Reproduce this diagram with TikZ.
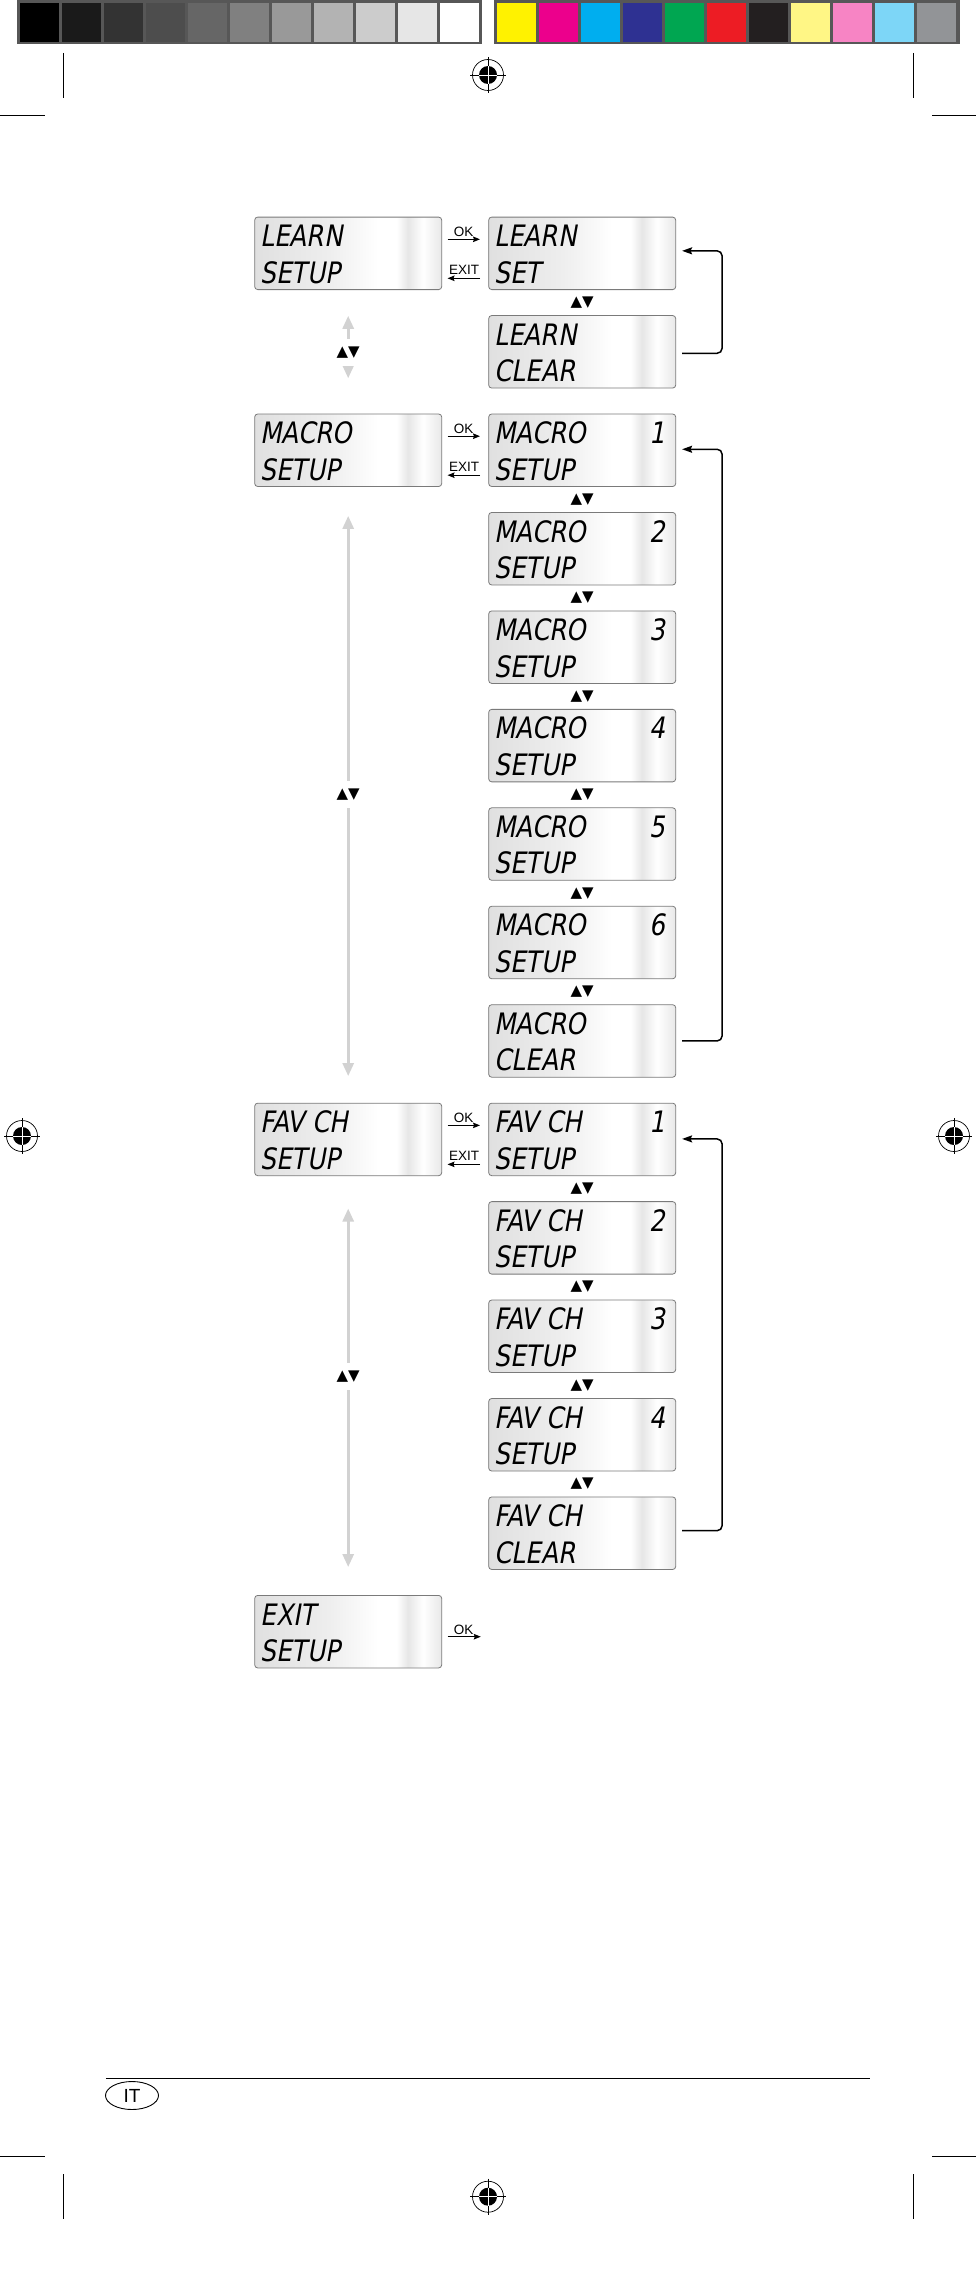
\documentclass[tikz,border=0pt]{standalone}
\usepackage{fontspec}
\setmainfont{Liberation Sans}
\newfontfamily\lcdfont{DejaVu Sans}[FakeSlant=0.18,FakeStretch=0.84]
\newfontfamily\symfont{DejaVu Sans}
\usetikzlibrary{arrows.meta,calc}
\definecolor{lcdA}{HTML}{E0E0E0}
\definecolor{lcdB}{HTML}{EEEEEE}
\definecolor{lcdC}{HTML}{E6E6E6}
\definecolor{lcdD}{HTML}{E8E8E8}
\definecolor{arrowgray}{HTML}{D2D2D2}
\definecolor{boxline}{HTML}{7A7A7A}
\definecolor{framegray}{HTML}{575757}
\pgfdeclarehorizontalshading{lcdshade}{100bp}{color(0bp)=(lcdA); color(25bp)=(lcdA); color(45bp)=(lcdB); color(58bp)=(white); color(63bp)=(white); color(66bp)=(lcdC); color(70bp)=(white); color(75bp)=(lcdD); color(100bp)=(lcdD)}
\newcommand\lcdbox[5]{%
  \node[lcd] (#1) at (#2,#3) {};
  \node[lcdtxt] (#1-a) at ($(#1.north west)+(6,30)$) {#4};
  \node[lcdtxt] (#1-b) at ($(#1.north west)+(6,66.5)$) {#5};
}
\newcommand\lcdnum[2]{%
  \node[lcdtxt,anchor=base east] (#1-n) at ($(#1.north east)+(-11,30)$) {#2};
}
\newcommand\myregmark[3]{%
  \begin{scope}[shift={(#2,#3)}]
    \draw[regline] (0,0) circle[radius=15.5];
    \fill (0,0) circle[radius=9];
    \draw[regline] (-18,0) -- (18,0) (0,-18) -- (0,18);
    \draw[white,line width=0.8pt] (-9,0) -- (9,0) (0,-9) -- (0,9);
    \coordinate (#1) at (0,0);
  \end{scope}
}
\begin{document}
\begin{tikzpicture}[x=1pt,y=-1pt,
  lcd/.style={draw=boxline, line width=0.8pt, rounded corners=3pt, shading=lcdshade,
    minimum width=187pt, minimum height=72.5pt, inner sep=0pt, anchor=north west},
  lcdtxt/.style={anchor=base west, inner sep=0pt, font=\lcdfont\fontsize{29.5}{29.5}\selectfont},
  updown/.style={font=\symfont\fontsize{15}{15}\selectfont, inner sep=0pt},
  updownw/.style={updown, fill=white, inner xsep=2pt, inner ysep=8pt},
  okarrow/.style={line width=1.1pt, -{Stealth[length=7pt,width=5.5pt,inset=1pt]}},
  oklbl/.style={font=\fontsize{13.5}{13.5}\selectfont, inner sep=0pt, anchor=base},
  looparrow/.style={line width=1.5pt, rounded corners=5pt, -{Stealth[length=10pt,width=7pt,inset=1.5pt]}},
  grayarrow/.style={draw=arrowgray, line width=2.8pt, {Triangle[length=13pt,width=11pt]}-{Triangle[length=13pt,width=11pt]}},
  regline/.style={line width=0.7pt},
]
\useasboundingbox (0,0) rectangle (976,2272);
\fill[white] (0,0) rectangle (976,2272);

% colour bars
\fill[framegray] (16.7,0) rectangle (482.3,44.3);
\foreach \c [count=\i from 0] in {000000,1A1A1A,333333,4D4D4D,666666,808080,999999,B3B3B3,CCCCCC,E6E6E6,FFFFFF} {
  \definecolor{sw}{HTML}{\c}\fill[sw] ({20+42*\i},3.3) rectangle ++(39,38.4);
}
\fill[framegray] (494,0) rectangle (959.5,44.3);
\foreach \c [count=\i from 0] in {FFF200,EC008C,00AEEF,2E3192,00A651,ED1C24,231F20,FFF685,F784C4,7DD6F7,929497} {
  \definecolor{sw}{HTML}{\c}\fill[sw] ({497.3+42*\i},3.3) rectangle ++(39,38.4);
}

% crop marks
\draw[regline] (63.5,53) -- (63.5,97.7) (913,53) -- (913,97.7);
\draw[regline] (0,115) -- (45,115) (932,115) -- (976,115);
\draw[regline] (0,2156) -- (45,2156) (932,2156) -- (976,2156);
\draw[regline] (63.5,2174) -- (63.5,2219) (913,2174) -- (913,2219);
\myregmark{regT}{488}{75}
\myregmark{regB}{488}{2196.7}
\myregmark{regL}{22}{1136}
\myregmark{regR}{954}{1136}

% footer
\draw[line width=1pt] (105.8,2078.3) -- (870,2078.3);
\draw[line width=0.9pt] (132,2095.5) ellipse[x radius=26.5, y radius=14];
\node[font=\fontsize{19}{19}\selectfont, inner sep=0pt] (lang) at (132,2095.5) {IT};

% LCD boxes, left column
\lcdbox{L0}{254.3}{216.7}{LEARN}{SETUP}
\lcdbox{L2}{254.3}{413.6}{MACRO}{SETUP}
\lcdbox{L9}{254.3}{1102.75}{FAV CH}{SETUP}
\lcdbox{L14}{254.3}{1595}{EXIT}{SETUP}

% right column
\lcdbox{R0}{488.3}{216.7}{LEARN}{SET}
\lcdbox{R1}{488.3}{315.15}{LEARN}{CLEAR}
\lcdbox{R2}{488.3}{413.6}{MACRO}{SETUP}\lcdnum{R2}{1}
\lcdbox{R3}{488.3}{512.05}{MACRO}{SETUP}\lcdnum{R3}{2}
\lcdbox{R4}{488.3}{610.5}{MACRO}{SETUP}\lcdnum{R4}{3}
\lcdbox{R5}{488.3}{708.95}{MACRO}{SETUP}\lcdnum{R5}{4}
\lcdbox{R6}{488.3}{807.4}{MACRO}{SETUP}\lcdnum{R6}{5}
\lcdbox{R7}{488.3}{905.85}{MACRO}{SETUP}\lcdnum{R7}{6}
\lcdbox{R8}{488.3}{1004.3}{MACRO}{CLEAR}
\lcdbox{R9}{488.3}{1102.75}{FAV CH}{SETUP}\lcdnum{R9}{1}
\lcdbox{R10}{488.3}{1201.2}{FAV CH}{SETUP}\lcdnum{R10}{2}
\lcdbox{R11}{488.3}{1299.65}{FAV CH}{SETUP}\lcdnum{R11}{3}
\lcdbox{R12}{488.3}{1398.1}{FAV CH}{SETUP}\lcdnum{R12}{4}
\lcdbox{R13}{488.3}{1496.55}{FAV CH}{CLEAR}

% up/down symbols between right boxes
\foreach \a/\b in {R0/R1,R2/R3,R3/R4,R4/R5,R5/R6,R6/R7,R7/R8,R9/R10,R10/R11,R11/R12,R12/R13} {
  \node[updown] (ud-\a) at ($(\a.south)!0.5!(\b.north)$) {▲▼};
}

% OK / EXIT arrows
\foreach \l/\r in {L0/R0,L2/R2,L9/R9} {
  \draw[okarrow] ($(\l.north east)+(5.4,22.6)$) -- ($(\r.north west)+(-8.3,22.6)$);
  \node[oklbl] (ok-\l) at ($(\l.north east)+(21.5,20.2)$) {OK};
  \draw[okarrow] ($(\r.north west)+(-8.3,61.6)$) -- ($(\l.north east)+(5.4,61.6)$);
  \node[oklbl] (exit-\l) at ($(\l.north east)+(22,57.5)$) {EXIT};
}
\coordinate (exitok) at ($(L14.north east)+(38.7,41.7)$);
\draw[okarrow] ($(L14.north east)+(5.4,41.7)$) -- (exitok);
\node[oklbl] (ok-L14) at ($(L14.north east)+(21.5,39.3)$) {OK};

% loop-back arrows
\draw[looparrow] ($(R1.east)+(6,1.5)$) -- ++(40,0) |- ($(R0.east)+(6,-2.5)$);
\draw[looparrow] ($(R8.east)+(6,0)$) -- ++(40,0) |- ($(R2.east)+(6,-1)$);
\draw[looparrow] ($(R13.east)+(6,-2.5)$) -- ++(40,0) |- ($(R9.east)+(6,-0.5)$);

% grey up/down arrows in left column
\draw[grayarrow] ($(L0.south)+(0,25.8)$) -- ($(L2.north)+(0,-35.3)$);
\node[updownw] (ud-g1) at ($(L0.south)+(0,62.5)$) {▲▼};
\draw[grayarrow] ($(L2.south)+(0,29)$) -- ($(L9.north)+(0,-26.7)$);
\node[updownw] (ud-g2) at ($(L2.south)+(0,307.5)$) {▲▼};
\draw[grayarrow] ($(L9.south)+(0,32.5)$) -- ($(L14.north)+(0,-28)$);
\node[updownw] (ud-g3) at ($(L9.south)+(0,200.4)$) {▲▼};
\end{tikzpicture}
\end{document}
